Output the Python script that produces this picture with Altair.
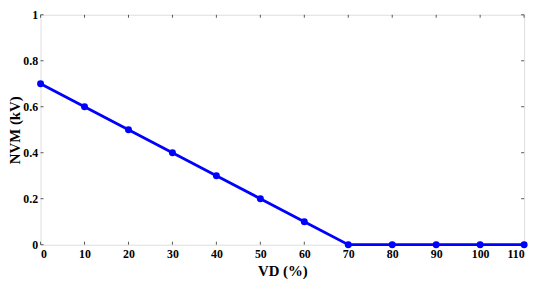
import altair as alt
import pandas as pd

vd = [0, 10, 20, 30, 40, 50, 60, 70, 80, 90, 100, 110]
nvm = [0.7, 0.6, 0.5, 0.4, 0.3, 0.2, 0.1, 0.0, 0.0, 0.0, 0.0, 0.0]
x_ticks = [0, 10, 20, 30, 40, 50, 60, 70, 80, 90, 100, 110]
y_ticks = [0, 0.2, 0.4, 0.6, 0.8, 1.0]

PL = 33
PT = 5
W, H = 531 - 8 - PL, 246 - 8 - PT
FONT = "Liberation Serif"

df = pd.DataFrame({"VD": vd, "NVM": nvm})
xt = pd.DataFrame({"t": x_ticks})
yt = pd.DataFrame({"t": y_ticks})

xs = alt.Scale(domain=[0, 110], nice=False, zero=False)
ys = alt.Scale(domain=[0, 1], nice=False)

axis_common = dict(
    labelFont=FONT, labelFontWeight="bold", labelFontSize=12, labelColor="black",
    titleFont=FONT, titleFontWeight="bold", titleFontSize=15, titleColor="black",
    grid=False, ticks=False, domain=False,
)

line = alt.Chart(df).mark_line(color="#0000ff", strokeWidth=2.8).encode(
    x=alt.X("VD:Q", scale=xs, title="VD (%)",
            axis=alt.Axis(values=x_ticks, labelPadding=4, titlePadding=4, **axis_common)),
    y=alt.Y("NVM:Q", scale=ys, title="NVM (kV)",
            axis=alt.Axis(values=y_ticks, format="~g", labelPadding=3,
                          titleX=-(PL - 15), titleBaseline="bottom", **axis_common)),
)
pts = alt.Chart(df).mark_circle(color="#0000ff", size=50, opacity=1).encode(
    x=alt.X("VD:Q", scale=xs), y=alt.Y("NVM:Q", scale=ys)
)

tick_style = dict(color="#555555", strokeWidth=1)
bt = alt.Chart(xt).mark_rule(**tick_style).encode(
    x=alt.X("t:Q", scale=xs), y=alt.value(H), y2=alt.value(H - 3))
tt = alt.Chart(xt).mark_rule(**tick_style).encode(
    x=alt.X("t:Q", scale=xs), y=alt.value(0), y2=alt.value(3))
lt = alt.Chart(yt).mark_rule(**tick_style).encode(
    y=alt.Y("t:Q", scale=ys), x=alt.value(0), x2=alt.value(3))
rt = alt.Chart(yt).mark_rule(**tick_style).encode(
    y=alt.Y("t:Q", scale=ys), x=alt.value(W), x2=alt.value(W - 3))

chart = alt.layer(bt, tt, lt, rt, line, pts).properties(
    width=W, height=H,
    autosize=alt.AutoSizeParams(type="none"),
    padding={"left": PL, "top": PT, "right": 8, "bottom": 40},
).configure_view(stroke="#bbbbbb", strokeWidth=1.5).configure(background="white")

chart.save("out.html", embed_options={"renderer": "svg", "actions": False})
